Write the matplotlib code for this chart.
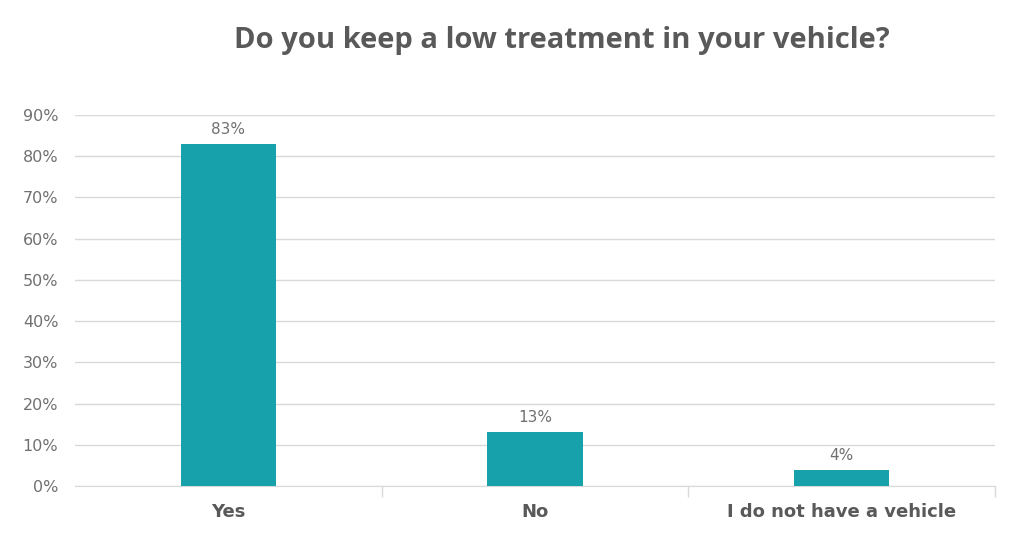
import matplotlib
matplotlib.use("Agg")
import matplotlib.pyplot as plt
from matplotlib.ticker import PercentFormatter, FixedLocator

categories = ["Yes", "No", "I do not have a vehicle"]
values = [0.83, 0.13, 0.04]
labels = ["83%", "13%", "4%"]

BAR = "#17a1aa"
GRID = "#d9d9d9"
TXT = "#595959"
LIGHT = "#707070"

fig = plt.figure(figsize=(10.24, 5.6), dpi=100)
ax = fig.add_axes([0.0732, 0.1321, 0.8985, 0.6625])

x = range(len(categories))
bars = ax.bar(x, values, width=0.31, color=BAR, zorder=3)
for b, lab in zip(bars, labels):
    ax.annotate(lab, (b.get_x() + b.get_width() / 2, b.get_height()),
                xytext=(0, 5), textcoords="offset points", ha="center", va="bottom",
                fontsize=11, color=LIGHT, family="DejaVu Sans")

ax.set_xlim(-0.5, len(categories) - 0.5)
ax.set_ylim(0, 0.9)
ax.yaxis.set_major_locator(FixedLocator([i / 10 for i in range(10)]))
ax.yaxis.set_major_formatter(PercentFormatter(1.0, decimals=0))
ax.grid(axis="y", color=GRID, linewidth=1, zorder=0)

ax.set_xticks(list(x))
ax.set_xticklabels(categories, fontsize=13, fontweight="bold", color=TXT, family="DejaVu Sans")
ax.tick_params(axis="x", length=0, pad=12)
ax.set_xticks([i + 0.5 for i in range(len(categories))], minor=True)
ax.tick_params(axis="x", which="minor", length=8, color=GRID, width=1)
ax.tick_params(axis="y", length=0, labelsize=11.5, labelcolor=LIGHT, pad=12)
for t in ax.get_yticklabels():
    t.set_family("DejaVu Sans")

for s in ["top", "right", "left"]:
    ax.spines[s].set_visible(False)
ax.spines["bottom"].set_color(GRID)

fig.text(0.549, 0.928, "Do you keep a low treatment in your vehicle?", ha="center", va="center",
         fontsize=21, fontweight="bold", color=TXT, family="Open Sans")

fig.savefig("out.png", dpi=100)
